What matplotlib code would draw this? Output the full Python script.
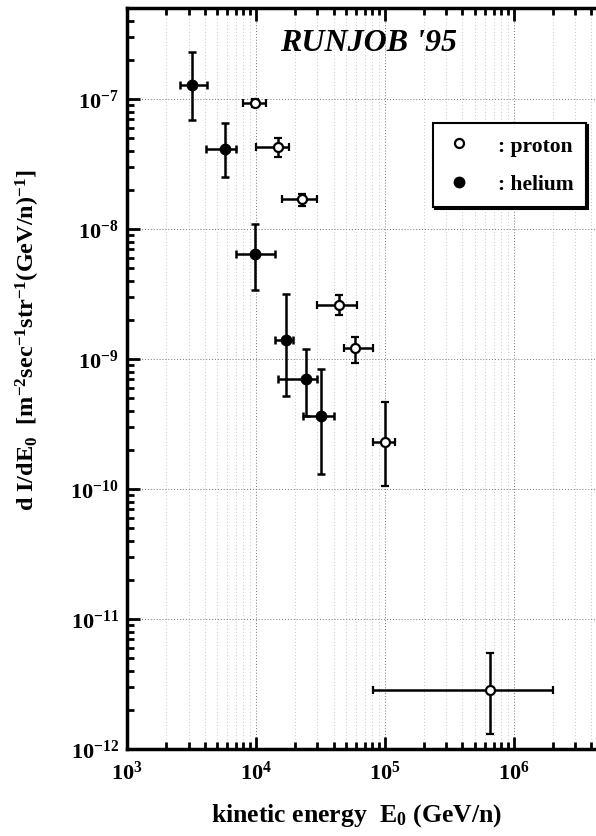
import numpy as np
import matplotlib.pyplot as plt
from matplotlib.ticker import LogLocator, NullFormatter, FuncFormatter

plt.rcParams['font.family'] = 'Liberation Serif'
plt.rcParams['font.weight'] = 'bold'
plt.rcParams['mathtext.fontset'] = 'custom'
plt.rcParams['mathtext.rm'] = 'Liberation Serif:bold'
plt.rcParams['mathtext.it'] = 'Liberation Serif:bold:italic'
plt.rcParams['mathtext.bf'] = 'Liberation Serif:bold'
plt.rcParams['mathtext.default'] = 'rm'

# proton (open circles): energy, energy low/high, flux, flux low/high
p_e = [9.8e3, 1.48e4, 2.27e4, 4.4e4, 5.85e4, 1.0e5, 6.5e5]
p_elo = [7.9e3, 1.0e4, 1.59e4, 2.97e4, 4.8e4, 8.07e4, 8.07e4]
p_ehi = [1.2e4, 1.8e4, 2.97e4, 6.07e4, 8.07e4, 1.2e5, 2.0e6]
p_f = [9.3e-8, 4.27e-8, 1.7e-8, 2.6e-9, 1.22e-9, 2.3e-10, 2.84e-12]
p_flo = [8.6e-8, 3.58e-8, 1.5e-8, 2.18e-9, 9.3e-10, 1.05e-10, 1.3e-12]
p_fhi = [1.0e-7, 5.0e-8, 1.86e-8, 3.1e-9, 1.48e-9, 4.67e-10, 5.5e-12]

# helium (filled circles)
h_e = [3.19e3, 5.75e3, 9.8e3, 1.71e4, 2.44e4, 3.19e4]
h_elo = [2.58e3, 4.1e3, 7.0e3, 1.4e4, 1.48e4, 2.31e4]
h_ehi = [4.17e3, 7.0e3, 1.4e4, 1.94e4, 3.0e4, 4.03e4]
h_f = [1.28e-7, 4.12e-8, 6.43e-9, 1.4e-9, 7.0e-10, 3.65e-10]
h_flo = [6.9e-8, 2.5e-8, 3.4e-9, 5.2e-10, 3.65e-10, 1.3e-10]
h_fhi = [2.3e-7, 6.5e-8, 1.1e-8, 3.16e-9, 1.19e-9, 8.4e-10]


def errs(c, lo, hi):
    c, lo, hi = np.array(c), np.array(lo), np.array(hi)
    return [c - lo, hi - c]


def pow10(v, pos):
    return r'$10^{%d}$' % int(round(np.log10(v)))


fig = plt.figure(figsize=(5.96, 8.37), dpi=100)
ax = fig.add_axes([0.2131, 0.1039, 0.7869, 0.8853])
ax.set_xscale('log')
ax.set_yscale('log')
ax.set_xlim(1e3, 4.35e6)
ax.set_ylim(1e-12, 5e-7)

# grid
ax.grid(which='major', color='0.45', lw=0.7, ls=(0, (1, 2)))
ax.grid(which='minor', axis='x', color='0.7', lw=0.6, ls=(0, (1, 3)))
ax.set_axisbelow(True)

ebkw = dict(fmt='o', color='black', ecolor='black', elinewidth=1.8,
            capsize=3, capthick=1.8, zorder=3)
ax.errorbar(h_e, h_f, xerr=errs(h_e, h_elo, h_ehi), yerr=errs(h_f, h_flo, h_fhi),
            ms=7.5, mfc='black', mec='black', **ebkw)
ax.errorbar(p_e, p_f, xerr=errs(p_e, p_elo, p_ehi), yerr=errs(p_f, p_flo, p_fhi),
            ms=6.5, mfc='white', mec='black', mew=1.6, **ebkw)

# ticks & spines
ax.xaxis.set_major_locator(LogLocator(base=10, numticks=20))
ax.xaxis.set_minor_locator(LogLocator(base=10, subs=np.arange(2, 10), numticks=20))
ax.yaxis.set_major_locator(LogLocator(base=10, numticks=20))
ax.yaxis.set_minor_locator(LogLocator(base=10, subs=np.arange(2, 10), numticks=20))
ax.xaxis.set_major_formatter(FuncFormatter(pow10))
ax.yaxis.set_major_formatter(FuncFormatter(pow10))
ax.xaxis.set_minor_formatter(NullFormatter())
ax.yaxis.set_minor_formatter(NullFormatter())
ax.xaxis.get_offset_text().set_visible(False)
ax.yaxis.get_offset_text().set_visible(False)
ax.tick_params(which='both', direction='in', top=True, right=False, width=2)
ax.tick_params(which='major', length=9, labelsize=16)
ax.tick_params(which='minor', length=5)
ax.tick_params(axis='x', which='major', pad=8)
ax.tick_params(axis='y', which='major', pad=6)
for s in ['left', 'bottom', 'top']:
    ax.spines[s].set_linewidth(2.5)
ax.spines['right'].set_visible(False)

ax.set_xlabel(r'kinetic energy  E$_0$ (GeV/n)', fontsize=18.5, fontweight='bold')
ax.xaxis.set_label_coords(0.49, -0.071)
ax.set_ylabel(r'd I/dE$_0$  [m$^{-2}$sec$^{-1}$str$^{-1}$(GeV/n)$^{-1}$]',
              fontsize=17.5, fontweight='bold')
ax.yaxis.set_label_coords(-0.181, 0.553)

ax.text(0.514, 0.954, "RUNJOB '95", transform=ax.transAxes, ha='center', va='center',
        fontsize=23, fontweight='bold', fontstyle='italic')

# legend
h1 = ax.errorbar([], [], fmt='o', ms=6.5, mfc='white', mec='black', mew=1.6, color='black')
h2 = ax.errorbar([], [], fmt='o', ms=7.5, mfc='black', mec='black', color='black')
leg = ax.legend([h1, h2], [': proton', ': helium'], loc='upper right',
                bbox_to_anchor=(0.979, 0.845), fontsize=15.5, frameon=True,
                fancybox=False, shadow={'color': 'black', 'alpha': 1, 'ox': 1.5, 'oy': -1.5},
                edgecolor='black', framealpha=1, handlelength=1.2,
                handletextpad=1.2, labelspacing=0.85, borderpad=0.6,
                borderaxespad=0)
leg.get_frame().set_linewidth(1.5)

fig.savefig('out.png', dpi=100)
